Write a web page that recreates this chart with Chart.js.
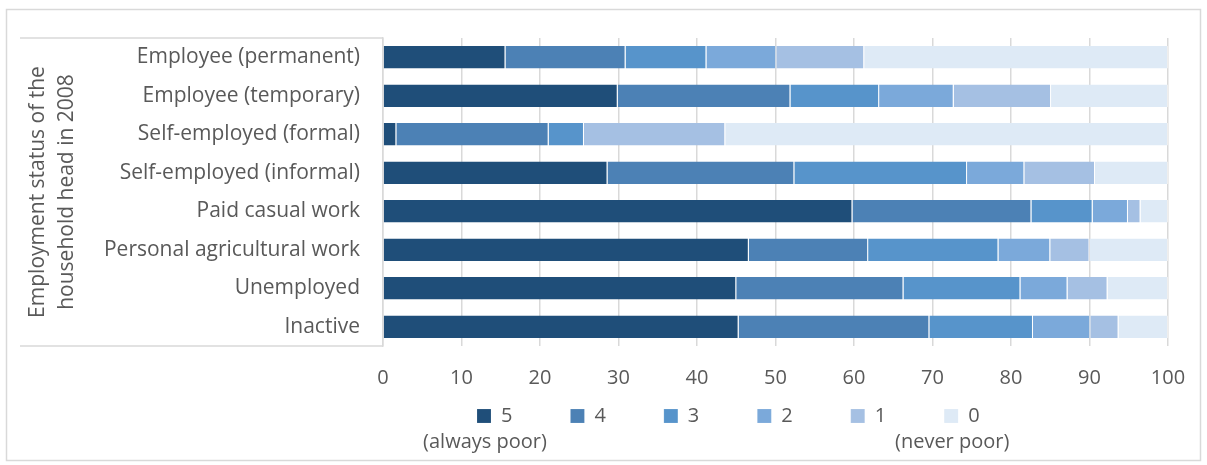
<!DOCTYPE html>
<html>
<head>
<meta charset="utf-8">
<script src="https://cdn.jsdelivr.net/npm/chart.js@4/dist/chart.umd.min.js"></script>
<style>
  html, body { margin: 0; padding: 0; background: #fff; overflow: hidden; }
  canvas { display: block; }
</style>
</head>
<body>
<canvas id="myChart" width="1207" height="465"></canvas>
<script>
// categories (top to bottom)
var categories = ['Employee (permanent)', 'Employee (temporary)', 'Self-employed (formal)',
  'Self-employed (informal)', 'Paid casual work', 'Personal agricultural work', 'Unemployed', 'Inactive'];

// share of households by number of years in poverty (5 = always poor, 0 = never poor)
var poor5 = [15.6, 29.9, 1.7, 28.6, 59.8, 46.6, 45.0, 45.3];
var poor4 = [15.3, 22.0, 19.4, 23.8, 22.8, 15.2, 21.3, 24.3];
var poor3 = [10.3, 11.3, 4.5, 22.0, 7.8, 16.6, 14.9, 13.2];
var poor2 = [8.9, 9.5, 0, 7.3, 4.5, 6.6, 6.0, 7.3];
var poor1 = [11.2, 12.4, 18.0, 9.0, 1.6, 5.0, 5.1, 3.6];
var poor0 = [38.7, 14.9, 56.4, 9.3, 3.5, 10.0, 7.7, 6.3];

var seriesNames = ['5', '4', '3', '2', '1', '0'];
var seriesNotes = ['(always poor)', '', '', '', '', '(never poor)'];
var axisTitle = ['Employment status of the', 'household head in 2008'];

var colors = ['#1f4e79', '#4c81b5', '#5794cb', '#7ba9da', '#a5c0e3', '#deeaf6'];
var allSeries = [poor5, poor4, poor3, poor2, poor1, poor0];

var textColor = '#595959';
var gridColor = '#d9d9d9';
var fontFamily = '"Open Sans", "Noto Sans", sans-serif';
var legendStartX = 477;
var legendMidY = 416;

// frame, category box, legend placement and legend notes
var decor = {
  id: 'decor',
  afterLayout: function(chart) {
    var lg = chart.legend;
    if (!lg || !lg.lineWidths) return;
    var pad = lg.options.labels.padding;
    var x0 = (lg.left + pad + lg.right - lg.lineWidths[0]) / 2;
    var dx = legendStartX - x0;
    var itemH = lg.legendHitBoxes && lg.legendHitBoxes[0] ? lg.legendHitBoxes[0].height : 20;
    var dy = legendMidY - (lg.top + pad + itemH / 2);
    lg.left += dx; lg.right += dx;
    lg.top += dy;
    lg.height = pad * 2 + itemH;
    lg.bottom = lg.top + lg.height;
  },
  beforeDraw: function(chart) {
    var c = chart.ctx, a = chart.chartArea;
    c.save();
    c.strokeStyle = gridColor;
    c.lineWidth = 1.5;
    c.strokeRect(6.5, 9.5, 1194, 451);
    c.beginPath();
    c.moveTo(20, a.top); c.lineTo(a.left, a.top);
    c.moveTo(20, a.bottom); c.lineTo(a.left, a.bottom);
    c.stroke();
    c.restore();
  },
  afterDraw: function(chart) {
    var c = chart.ctx;
    var boxes = chart.legend.legendHitBoxes;
    if (!boxes) return;
    c.save();
    c.fillStyle = textColor;
    c.font = '20px ' + fontFamily;
    c.textAlign = 'center';
    c.textBaseline = 'middle';
    seriesNotes.forEach(function(note, i) {
      if (!note || !boxes[i]) return;
      var b = boxes[i];
      c.fillText(note, b.left + 8, b.top + b.height / 2 + 26);
    });
    c.restore();
  }
};

var ctx = document.getElementById('myChart').getContext('2d');
var chart = new Chart(ctx, {
  type: 'bar',
  data: {
    labels: categories,
    datasets: allSeries.map(function(vals, i) {
      return {
        label: seriesNames[i],
        data: vals,
        backgroundColor: colors[i],
        borderColor: 'rgba(255,255,255,0.55)',
        borderWidth: { right: 1 },
        borderSkipped: false,
        categoryPercentage: 1,
        barPercentage: 0.58
      };
    })
  },
  options: {
    indexAxis: 'y',
    responsive: false,
    animation: false,
    devicePixelRatio: 1,
    layout: { padding: { left: 20, top: 38, right: 39, bottom: 24 } },
    scales: {
      x: {
        stacked: true,
        min: 0,
        max: 100,
        afterFit: function(scale) { scale.height = 45; },
        ticks: { stepSize: 10, color: textColor, padding: 20, font: { family: fontFamily, size: 20 } },
        grid: { color: gridColor, lineWidth: 1.5, drawTicks: false },
        border: { display: false }
      },
      y: {
        stacked: true,
        afterFit: function(scale) { scale.width = 363; },
        ticks: { color: textColor, padding: 23, font: { family: fontFamily, size: 21 } },
        grid: { display: false, drawTicks: false },
        border: { display: true, color: gridColor, width: 1.5 },
        title: {
          display: true,
          text: axisTitle,
          color: textColor,
          padding: { top: 4, bottom: 0 },
          font: { family: fontFamily, size: 21, lineHeight: 1.38 }
        }
      }
    },
    plugins: {
      legend: {
        position: 'bottom',
        maxHeight: 50,
        labels: {
          color: textColor,
          boxWidth: 14,
          boxHeight: 14,
          padding: 58,
          font: { family: fontFamily, size: 20 }
        }
      },
      tooltip: { enabled: false }
    }
  },
  plugins: [decor]
});
</script>
</body>
</html>
